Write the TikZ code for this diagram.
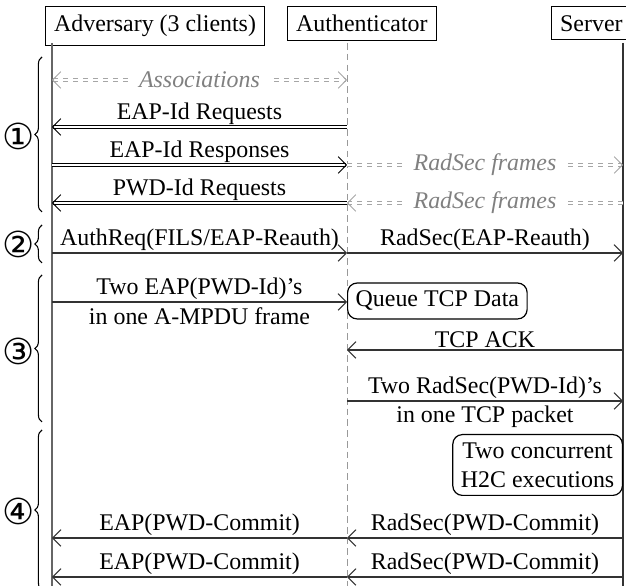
\documentclass[tikz,border=0pt]{standalone}
\usepackage{fontspec}
\setmainfont{Liberation Serif}
\newfontfamily\circfont{DejaVu Sans}
\usetikzlibrary{arrows.meta,decorations.pathreplacing}
\tikzset{
  barb/.tip={Straight Barb[length=3.4pt,width=7pt]},
  actor/.style={draw,line width=0.5pt,inner sep=3.6pt,anchor=north west},
  note/.style={draw,rounded corners=4pt,line width=0.5pt,inner sep=3.4pt,align=center},
  msg/.style={line width=0.45pt,draw=black!80,-barb},
  dblmsg/.style={line width=0.4pt,double=white,double distance=0.6pt,-barb},
  frames/.style={line width=0.4pt,draw=black!35,double=white,double distance=0.7pt,dash pattern=on 2pt off 2.2pt},
  framelbl/.style={fill=white,text=black!50,font=\itshape,inner xsep=4pt,inner ysep=2pt},
  lbl/.style={inner sep=0.9pt},
  grp/.style={decorate,decoration={brace,amplitude=3pt},line width=0.45pt},
  stage/.style={font=\circfont\fontsize{15}{15}\selectfont,inner sep=0pt}
}
\begin{document}
\begin{tikzpicture}[x=0.4184pt,y=0.4184pt,yscale=-1,xscale=1]
\useasboundingbox (0,0) rectangle (626,586);

% Actors
\node[actor] (adv) at (45,6) {Adversary (3 clients)};
\node[actor] (auth) at (287,6) {Authenticator};
\node[actor] (srv) at (551,6) {Server};

% Lifelines
\coordinate (advTop) at (52,43);
\coordinate (advEnd) at (52,600);
\coordinate (authTop) at (347,43);
\coordinate (authEnd) at (347,600);
\coordinate (srvTop) at (623,43);
\coordinate (srvEnd) at (623,600);
\draw [line width=0.5pt,black!60] (advTop) -- (advEnd);
\draw [line width=0.4pt,black!40,dash pattern=on 2.8pt off 1.7pt] (authTop) -- (authEnd);
\draw [line width=0.5pt,black!80] (srvTop) -- (srvEnd);

% message rows
\foreach \r/\y in {1/80,2/127,3/165,4/203,5/253,6/302,7/350,8/401,9/538,10/577}{
  \coordinate (a\r) at (52,\y);
  \coordinate (u\r) at (347,\y);
  \coordinate (s\r) at (623,\y);
}

%Double Lines
\draw [frames,{barb[black!35]}-{barb[black!35]}] (a1) -- node[framelbl] {Associations} (u1);
\draw [dblmsg] (u2) -- node[lbl,above] {EAP-Id Requests} (a2);
\draw [dblmsg] (a3) -- node[lbl,above] {EAP-Id Responses} (u3);
\draw [frames,-{barb[black!35]}] (u3) -- node[framelbl] {RadSec frames} (s3);
\draw [dblmsg] (u4) -- node[lbl,above] {PWD-Id Requests} (a4);
\draw [frames,-{barb[black!35]}] (s4) -- node[framelbl] {RadSec frames} (u4);

%Straight Lines
\draw [msg] (a5) -- node[lbl,above] {AuthReq(FILS/EAP-Reauth)} (u5);
\draw [msg] (u5) -- node[lbl,above] {RadSec(EAP-Reauth)} (s5);
\draw [msg] (a6) -- node[lbl,above] {Two EAP(PWD-Id)'s}
  node[below,inner sep=2pt] {in one A-MPDU frame} (u6);
\draw [msg] (s7) -- node[lbl,above] {TCP ACK} (u7);
\draw [msg] (u8) -- node[lbl,above] {Two RadSec(PWD-Id)'s}
  node[below,inner sep=2pt] {in one TCP packet} (s8);
\draw [msg] (u9) -- node[lbl,above] {EAP(PWD-Commit)} (a9);
\draw [msg] (s9) -- node[lbl,above] {RadSec(PWD-Commit)} (u9);
\draw [msg] (u10) -- node[lbl,above] {EAP(PWD-Commit)} (a10);
\draw [msg] (s10) -- node[lbl,above] {RadSec(PWD-Commit)} (u10);

% Notes
\node[note,anchor=west] (queue) at (347,301) {Queue TCP Data};
\node[note,anchor=east] (h2c) at (623,465) {Two concurrent\\H2C executions};

% Braces
\draw [grp] (42,212) -- (42,57);
\draw [grp] (42,263) -- (42,225);
\draw [grp] (42,422) -- (42,275);
\draw [grp] (42,590) -- (42,430);
% Text Node
\node[stage] (st1) at (19,136) {①};
\node[stage] (st2) at (19,244) {②};
\node[stage] (st3) at (19,351) {③};
\node[stage] (st4) at (19,511) {④};

\end{tikzpicture}
\end{document}
